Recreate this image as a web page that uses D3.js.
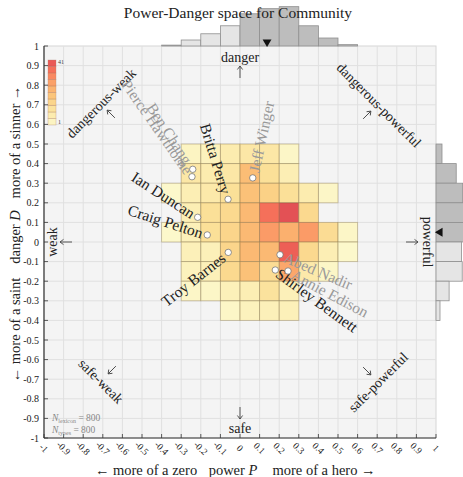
<!DOCTYPE html>
<html><head><meta charset="utf-8">
<script src="https://cdn.jsdelivr.net/npm/d3@7"></script>
<style>body{margin:0;background:#fff}</style>
</head><body>
<svg id="c" width="463" height="477"></svg>
<script>
// ---------- data ----------
const powerBins  = [-0.4,-0.3,-0.2,-0.1,0,0.1,0.2,0.3,0.4,0.5];   // lower edges of P bins
const dangerBins = [0.4,0.3,0.2,0.1,0,-0.1,-0.2,-0.3,-0.4];        // lower edges of D bins
const cellCounts = [
  [0, 3, 4, 7, 9, 9, 2, 0, 0, 0],
  [0, 9, 7, 9,21,12, 6, 0, 0, 0],
  [1, 6, 8,12,20,16,12, 7, 2, 0],
  [0, 6,12,14,22,35,41,14, 0, 0],
  [1, 5,12,15,22,28,24,28,13, 2],
  [0, 5, 5,15,22,22,38,14, 6, 1],
  [0, 4, 5,14,20,13,26, 8, 2, 0],
  [0, 2, 2, 5, 6,11, 5, 0, 0, 0],
  [0, 0, 0, 2, 4, 5, 5, 0, 0, 0]
];
const powerHist  = [4,27,55,91,145,168,177,91,36,6];
const dangerHist = [27,91,120,128,124,115,118,59,18];
const powerMean = 0.138, dangerMean = 0.05;
const names  = ["Pierce Hawthorne","Ben Chang","Britta Perry","Jeff Winger","Ian Duncan","Craig Pelton","Troy Barnes","Abed Nadir","Shirley Bennett","Annie Edison"];
const namesP = [-0.245,-0.241,-0.061, 0.065,-0.216,-0.167,-0.060, 0.204, 0.180, 0.245];
const namesD = [ 0.333, 0.371, 0.218, 0.327, 0.126, 0.036,-0.053,-0.065,-0.143,-0.148];
const ticks = d3.range(-10,11).map(i=>i/10);
const nLexicon = 800, nTypes = 800;

// ---------- styles ----------
const labelStyle = [
  {a:55, anchor:"end", c:"#999", g:5},
  {a:57, anchor:"end", c:"#999", g:8},
  {a:73, anchor:"end", c:"#222", g:6},
  {a:-78, anchor:"start", c:"#999", g:6},
  {a:33, anchor:"end", c:"#222", g:5},
  {a:18, anchor:"end", c:"#222", g:5},
  {a:-38, anchor:"end", c:"#222", g:6},
  {a:23, anchor:"start", c:"#999", g:5},
  {a:36, anchor:"start", c:"#222", g:3},
  {a:28, anchor:"start", c:"#999", g:5}
];
const FONT = "'Liberation Serif', 'DejaVu Serif', serif";

const svg = d3.select("#c").style("font-family", FONT);
const x = d3.scaleLinear([-1,1],[44,436]);
const y = d3.scaleLinear([-1,1],[438,46]);
const color = c => d3.interpolateYlOrRd(0.04 + 0.72*(c-1)/40);
const hScale = d3.scaleLinear([0,180],[0,40]);

// background + grid
svg.append("rect").attr("x",x(-1)).attr("y",y(1)).attr("width",x(1)-x(-1)).attr("height",y(-1)-y(1))
  .attr("fill","#f4f4f4").attr("stroke","#d6d6d6");
const grid = svg.append("g").attr("stroke","#e0e0e0").attr("stroke-width",1);
ticks.slice(1,-1).forEach(v=>{
  grid.append("line").attr("x1",x(v)).attr("x2",x(v)).attr("y1",y(1)).attr("y2",y(-1));
  grid.append("line").attr("y1",y(v)).attr("y2",y(v)).attr("x1",x(-1)).attr("x2",x(1));
});

// histograms
const th = svg.append("g");
powerBins.forEach((p,i)=>{
  const h = hScale(powerHist[i]);
  th.append("rect").attr("x",x(p)).attr("width",x(p+0.1)-x(p)).attr("y",y(1)-h).attr("height",h)
    .attr("fill", p<0 ? "#e5e5e5" : "#bdbdbd").attr("stroke","#8f8f8f").attr("stroke-width",0.8);
});
th.append("path").attr("d",d3.symbol(d3.symbolTriangle,34)())
  .attr("transform",`translate(${x(powerMean)},${y(1)-4}) rotate(180)`).attr("fill","#111");
const rh = svg.append("g");
dangerBins.forEach((d,i)=>{
  const w = hScale(dangerHist[i]);
  rh.append("rect").attr("x",x(1)).attr("width",w).attr("y",y(d+0.1)).attr("height",y(d)-y(d+0.1))
    .attr("fill", d<0 ? "#e5e5e5" : "#bdbdbd").attr("stroke","#8f8f8f").attr("stroke-width",0.8);
});
rh.append("path").attr("d",d3.symbol(d3.symbolTriangle,34)())
  .attr("transform",`translate(${x(1)+4},${y(dangerMean)}) rotate(-90)`).attr("fill","#111");

// title (on top of histogram)
svg.append("text").attr("x",238).attr("y",18).attr("text-anchor","middle")
  .attr("font-size",15.5).attr("fill","#222").text("Power-Danger space for Community");

// heatmap
const hm = svg.append("g");
dangerBins.forEach((d,r)=>{
  powerBins.forEach((p,c)=>{
    const v = cellCounts[r][c];
    if(!v) return;
    hm.append("rect").attr("x",x(p)).attr("y",y(d+0.1)).attr("width",x(p+0.1)-x(p)).attr("height",y(d)-y(d+0.1))
      .attr("fill",color(v)).attr("fill-opacity",0.75)
      .attr("stroke","#8c7a55").attr("stroke-opacity",0.45).attr("stroke-width",0.9);
  });
});

// colorbar
const cb = svg.append("g");
const cbTop = 60, cbBot = 125, nSeg = 10;
d3.range(nSeg).forEach(i=>{
  const v0 = 1 + i*4, segH = (cbBot-cbTop)/nSeg;
  cb.append("rect").attr("x",48).attr("width",8).attr("y",cbBot-(i+1)*segH).attr("height",segH)
    .attr("fill",color(v0+2)).attr("fill-opacity",0.75).attr("stroke","#b08070").attr("stroke-opacity",0.5).attr("stroke-width",0.6);
});
cb.append("text").attr("x",58).attr("y",cbTop+4).attr("font-size",6).attr("fill","#444").text("41");
cb.append("text").attr("x",58).attr("y",cbBot-1).attr("font-size",6).attr("fill","#444").text("1");

// spines and ticks
const ax = svg.append("g").attr("stroke","#333");
ax.append("line").attr("x1",x(-1)).attr("x2",x(-1)).attr("y1",y(1)).attr("y2",y(-1)).attr("stroke-width",1.2);
ax.append("line").attr("x1",x(-1)).attr("x2",x(1)).attr("y1",y(-1)).attr("y2",y(-1)).attr("stroke-width",1.2);
const fmt = v => (Math.round(v*10)/10).toString();
ticks.forEach(v=>{
  ax.append("line").attr("x1",x(-1)).attr("x2",x(-1)+4).attr("y1",y(v)).attr("y2",y(v)).attr("stroke-width",0.8);
  ax.append("line").attr("x1",x(v)).attr("x2",x(v)).attr("y1",y(-1)).attr("y2",y(-1)-4).attr("stroke-width",0.8);
  svg.append("text").attr("x",x(-1)-5).attr("y",y(v)).attr("dy","0.35em").attr("text-anchor","end")
    .attr("font-size",10).attr("fill","#222").text(fmt(v));
  svg.append("text").attr("transform",`translate(${x(v)},${y(-1)+10}) rotate(45)`).attr("dy","0.35em")
    .attr("text-anchor","middle").attr("font-size",9.5).attr("fill","#222").text(fmt(v));
});

// axis titles
function rotText(cx,cy,ang,size,parts){
  const t = svg.append("text").attr("transform",`translate(${cx},${cy}) rotate(${ang})`)
    .attr("text-anchor","middle").attr("dy","0.35em").attr("font-size",size).attr("fill","#222");
  parts.forEach(p=>t.append("tspan").attr("font-style",p[1]?"italic":null).text(p[0]));
  return t;
}
const AS = 14.5;
rotText(15,142,-90,AS,[["more of a sinner →"]]);
rotText(15,237,-90,AS,[["danger "],["D",1]]);
rotText(15,330,-90,AS,[["← more of a saint"]]);
rotText(146,470,0,AS,[["← more of a zero"]]);
rotText(233,470,0,AS,[["power "],["P",1]]);
rotText(324,470,0,AS,[["more of a hero →"]]);

// region labels
const RS = 14;
rotText(240,57,0,RS,[["danger"]]);
rotText(240,428,0,RS,[["safe"]]);
rotText(52,242,-90,RS,[["weak"]]);
rotText(428,242,90,RS,[["powerful"]]);
rotText(101,103,-45,RS,[["dangerous-weak"]]);
rotText(379,105,45,RS,[["dangerous-powerful"]]);
rotText(101,381,45,RS,[["safe-weak"]]);
rotText(378,382,-45,RS,[["safe-powerful"]]);

// direction arrows (thin, drawn)
function arrow(cx,cy,angDeg,len){
  const g = svg.append("g").attr("transform",`translate(${cx},${cy}) rotate(${angDeg})`)
    .attr("stroke","#444").attr("stroke-width",0.9).attr("fill","none");
  g.append("line").attr("x1",-len/2).attr("x2",len/2).attr("y1",0).attr("y2",0);
  g.append("path").attr("d",`M${len/2-3.5},-2.6 L${len/2},0 L${len/2-3.5},2.6`);
}
arrow(240,72,-90,12);
arrow(240,413,90,12);
arrow(66,242,180,12);
arrow(412,242,0,12);
arrow(111,114,-135,11);
arrow(367,115,-45,11);
arrow(112,370,135,11);
arrow(367,371,45,11);

// N annotation
function nText(yy,sub,val){
  const t = svg.append("text").attr("x",52).attr("y",yy).attr("font-size",9.5).attr("fill","#888");
  t.append("tspan").attr("font-style","italic").text("N");
  t.append("tspan").attr("font-size",6).attr("dy",2).text(sub);
  t.append("tspan").attr("dy",-2).text(" = "+val);
}
nText(421,"lexicon",nLexicon);
nText(433,"types",nTypes);

// names + dots
names.forEach((n,i)=>{
  const s = labelStyle[i], px = x(namesP[i]), py = y(namesD[i]);
  svg.append("text").attr("transform",`translate(${px},${py}) rotate(${s.a}) translate(${s.anchor==="end"?-s.g:s.g},0)`)
    .attr("text-anchor",s.anchor).attr("dy","0.35em").attr("font-size",15.5).attr("fill",s.c).text(n);
});
names.forEach((n,i)=>{
  svg.append("circle").attr("cx",x(namesP[i])).attr("cy",y(namesD[i])).attr("r",3.2)
    .attr("fill","#fff").attr("stroke","#666").attr("stroke-width",0.7);
});
</script>
</body></html>
